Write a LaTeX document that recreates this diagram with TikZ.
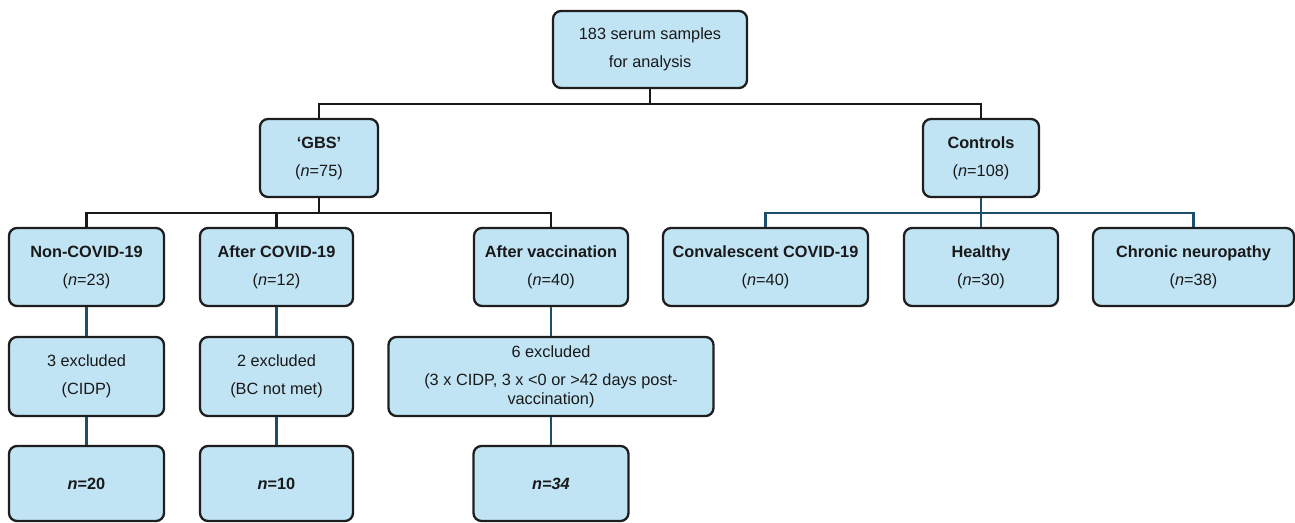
\documentclass[tikz,border=0pt]{standalone}
\usepackage{fontspec}
\setmainfont{Liberation Sans}
\definecolor{boxfill}{HTML}{C1E4F5}
\definecolor{boxline}{HTML}{1E1E1E}
\definecolor{teal}{HTML}{1D4F6C}
\begin{document}
\begin{tikzpicture}[x=1pt,y=-1pt,
  fbox/.style={draw=boxline, fill=boxfill, rounded corners=8pt, line width=2.3pt,
    inner sep=0pt, align=center, text=black!90,
    font=\fontsize{16.3}{28}\selectfont},
  blk/.style={draw=black!90, line width=2.2pt},
  tl/.style={draw=teal, line width=2.2pt}]
\useasboundingbox (0,0) rectangle (1295,522);
% nodes
\node[fbox, minimum width=194pt, minimum height=77pt] (top) at (650,49.5) {183 serum samples\\for analysis};
\node[fbox, minimum width=118pt, minimum height=78pt] (gbs) at (319,158) {\textbf{‘GBS’}\\(\textit{n}=75)};
\node[fbox, minimum width=116pt, minimum height=78pt] (ctrl) at (981,158) {\textbf{Controls}\\(\textit{n}=108)};
\node[fbox, minimum width=155pt, minimum height=78pt] (nc) at (86.5,267) {\textbf{Non-COVID-19}\\(\textit{n}=23)};
\node[fbox, minimum width=153pt, minimum height=78pt] (ac) at (276.5,267) {\textbf{After COVID-19}\\(\textit{n}=12)};
\node[fbox, minimum width=154pt, minimum height=78pt] (av) at (551,267) {\textbf{After vaccination}\\(\textit{n}=40)};
\node[fbox, minimum width=205pt, minimum height=78pt] (conv) at (765.5,267) {\textbf{Convalescent COVID-19}\\(\textit{n}=40)};
\node[fbox, minimum width=154pt, minimum height=78pt] (heal) at (981,267) {\textbf{Healthy}\\(\textit{n}=30)};
\node[fbox, minimum width=201pt, minimum height=78pt] (chron) at (1193.5,267) {\textbf{Chronic neuropathy}\\(\textit{n}=38)};
\node[fbox, minimum width=155pt, minimum height=79pt] (ex1) at (86.5,376.5) {3 excluded\\(CIDP)};
\node[fbox, minimum width=153pt, minimum height=79pt] (ex2) at (276.5,376.5) {2 excluded\\(BC not met)};
\node[fbox, minimum width=325pt, minimum height=79pt] (ex3) at (551,376.5) {6 excluded\\(3 x CIDP, 3 x <0 or >42 days post-\\[-9pt]vaccination)};
\node[fbox, minimum width=155pt, minimum height=75pt] (f1) at (86.5,483.5) {\textbf{\textit{n}=20}};
\node[fbox, minimum width=153pt, minimum height=75pt] (f2) at (276.5,483.5) {\textbf{\textit{n}=10}};
\node[fbox, minimum width=155pt, minimum height=75pt] (f3) at (551,483.5) {\textbf{\textit{n=34}}};
% junctions
\coordinate (j1) at (650,104);
\coordinate (j2) at (319,213);
\coordinate (j3) at (981,213);
% black connectors
\draw[blk] (top.south) -- (j1);
\draw[blk] (gbs.north) |- (j1) -| (ctrl.north);
\draw[blk] (gbs.south) -- (j2);
\draw[blk] (nc.north) |- (j2) -| (av.north);
\draw[blk] (ac.north) -- (ac.north |- j2);
% teal connectors
\draw[tl] (ctrl.south) -- (heal.north);
\draw[tl] (conv.north) |- (j3) -| (chron.north);
\draw[tl] (nc.south) -- (ex1.north);
\draw[tl] (ex1.south) -- (f1.north);
\draw[tl] (ac.south) -- (ex2.north);
\draw[tl] (ex2.south) -- (f2.north);
\draw[tl] (av.south) -- (ex3.north);
\draw[tl] (ex3.south) -- (f3.north);
\end{tikzpicture}
\end{document}
